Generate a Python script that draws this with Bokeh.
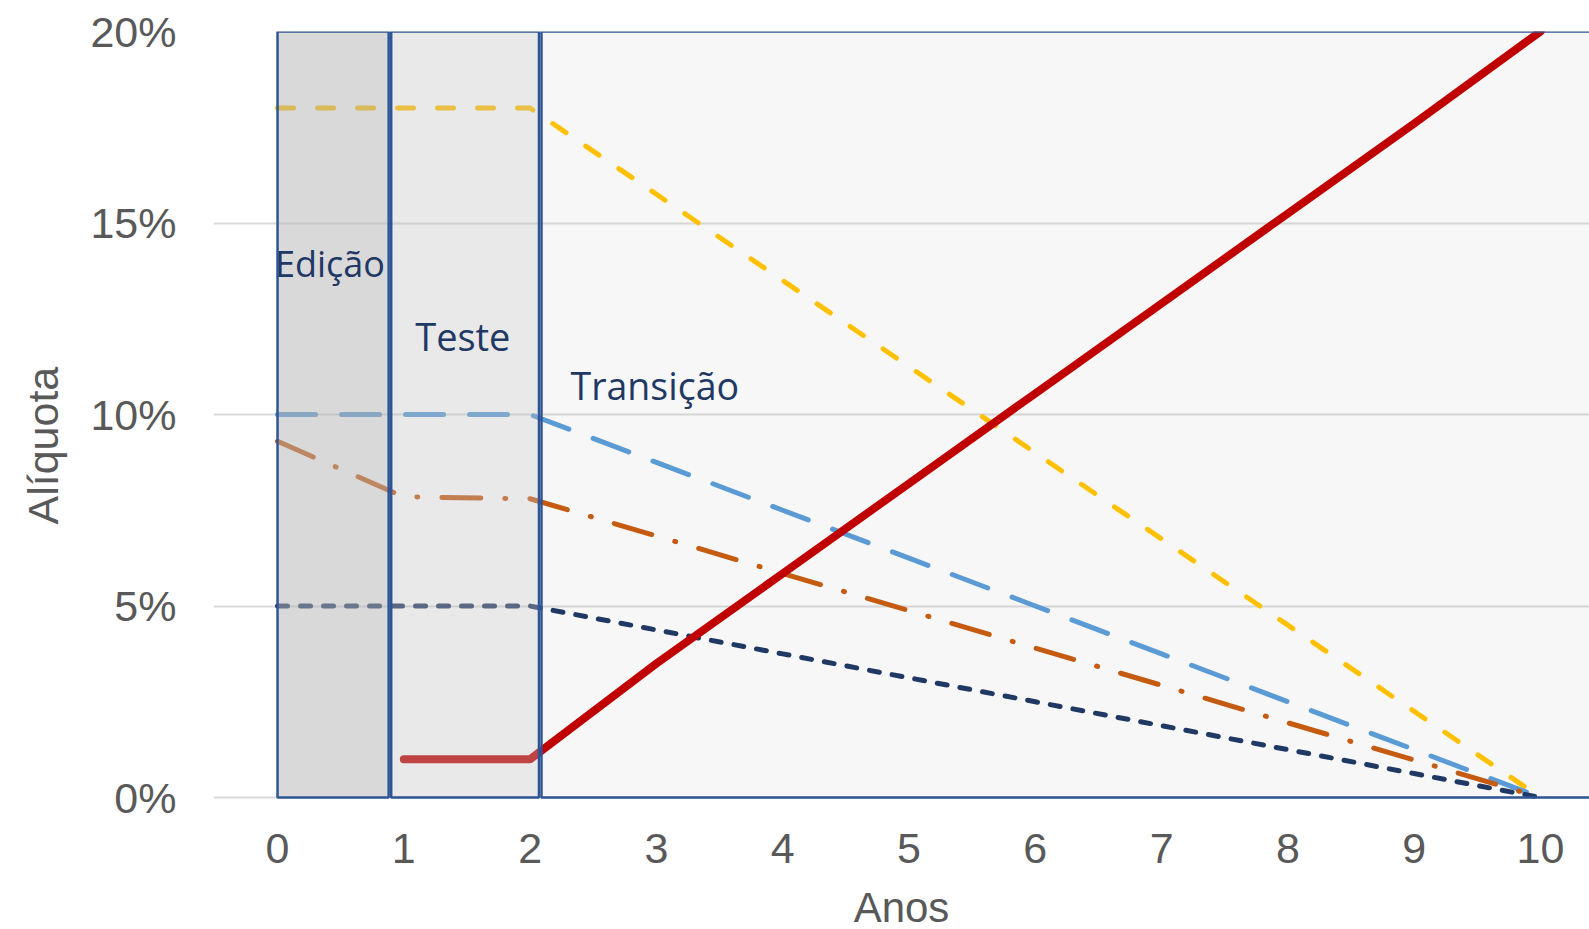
from bokeh.plotting import figure
from bokeh.models import FixedTicker, PrintfTickFormatter, Range1d, Title
from bokeh.models import Label
from bokeh.embed import file_html
from bokeh.resources import INLINE

# ---- data ----
anos = [0, 1, 2, 3, 4, 5, 6, 7, 8, 9, 10]
serie_amarela = [18, 18, 18, 15.75, 13.5, 11.25, 9, 6.75, 4.5, 2.25, 0]
serie_azul = [10, 10, 10, 8.75, 7.5, 6.25, 5, 3.75, 2.5, 1.25, 0]
serie_laranja = [9.3, 7.85, 7.8, 6.83, 5.85, 4.88, 3.9, 2.93, 1.95, 0.98, 0]
serie_marinho = [5, 5, 5, 4.375, 3.75, 3.125, 2.5, 1.875, 1.25, 0.625, 0]
anos_ibs = [1, 2, 3, 4, 5, 6, 7, 8, 9, 10]
serie_ibs = [1, 1, 3.5, 5.85, 8.2, 10.55, 12.9, 15.25, 17.6, 20]

fases = ["Edição", "Teste", "Transição"]
fase_inicio = [0, 0.9, 2.09]
fase_fim = [0.88, 2.07, 10.6]
fase_topo = [20, 20, 20]

y_ticks = [0, 5, 10, 15, 20]
x_ticks = anos
titulo_x = "Anos"
titulo_y = "Alíquota"

TICK_COLOR = "#595959"
LABEL_FONT = "Liberation Sans"

# the frame runs to the bottom edge; the x axis is pinned at 0 %
p = figure(width=1589, height=929, output_backend="svg", toolbar_location=None,
           x_range=Range1d(-0.507, 10.388), y_range=Range1d(-3.446, 20),
           min_border_left=213, min_border_right=0, min_border_top=31,
           min_border_bottom=0)
p.outline_line_color = None
p.background_fill_color = "white"
p.border_fill_color = "white"

# Transição box (under the lines)
p.quad(left=[fase_inicio[2]], right=[fase_fim[2]], bottom=[0], top=[fase_topo[2]],
       fill_color="#c0c0c0", fill_alpha=0.13, line_color=None)

# series
p.line(anos, serie_amarela, line_color="#ffc000", line_width=5, line_dash="16 24",
       line_cap="round", line_join="round")
p.line(anos, serie_azul, line_color="#5b9bd5", line_width=5, line_dash="38 26",
       line_cap="round", line_join="round")
p.line(anos, serie_laranja, line_color="#c55a11", line_width=5, line_dash="39 24 1 24",
       line_cap="round", line_join="round")
p.line(anos, serie_marinho, line_color="#203864", line_width=5, line_dash="10 13",
       line_cap="round", line_join="round")
p.line(anos_ibs, serie_ibs, line_color="#c00000", line_width=8,
       line_cap="round", line_join="round")

# Edição / Teste overlays (over the lines)
p.quad(left=[fase_inicio[0]], right=[fase_fim[0]], bottom=[0], top=[fase_topo[0]],
       fill_color="#b4b4b4", fill_alpha=0.5, line_color=None)
p.quad(left=[fase_inicio[1]], right=[fase_fim[1]], bottom=[0], top=[fase_topo[1]],
       fill_color="#c0c0c0", fill_alpha=0.35, line_color=None)

# borders
p.quad(left=fase_inicio, right=fase_fim, bottom=[0, 0, 0], top=fase_topo,
       fill_color=None, line_color="#2f5597", line_width=2.5)

# phase labels
lab_kw = dict(text_font="Open Sans", text_color="#1f3864",
              text_baseline="alphabetic", text_align="left")
p.add_layout(Label(x=-0.02, y=13.95, text=fases[0], text_font_size="36px", **lab_kw))
p.add_layout(Label(x=1.09, y=12.04, text=fases[1], text_font_size="38px", **lab_kw))
p.add_layout(Label(x=2.32, y=10.77, text=fases[2], text_font_size="37.5px", **lab_kw))

# grid
p.xgrid.visible = False
p.ygrid.ticker = FixedTicker(ticks=y_ticks)
p.ygrid.grid_line_color = "#d9d9d9"
p.ygrid.grid_line_width = 2

# axes
p.yaxis.ticker = FixedTicker(ticks=y_ticks)
p.yaxis.formatter = PrintfTickFormatter(format="%d%%")
p.xaxis.ticker = FixedTicker(ticks=x_ticks)
p.xaxis.fixed_location = 0
for ax in (p.xaxis[0], p.yaxis[0]):
    ax.axis_line_color = None
    ax.major_tick_line_color = None
    ax.minor_tick_line_color = None
    ax.major_label_text_font = LABEL_FONT
    ax.major_label_text_font_size = "43px"
    ax.major_label_text_color = TICK_COLOR
p.yaxis.major_label_standoff = 31
p.xaxis.major_label_standoff = 30

# x axis title
p.xaxis.axis_label = titulo_x
p.xaxis.axis_label_text_font = LABEL_FONT
p.xaxis.axis_label_text_font_size = "42px"
p.xaxis.axis_label_text_font_style = "normal"
p.xaxis.axis_label_text_color = TICK_COLOR
p.xaxis.axis_label_standoff = 18

# y axis title (as a left-side title so it can be shifted along the axis)
t = Title(text=titulo_y, align="left", offset=405, vertical_align="top",
          text_font=LABEL_FONT, text_font_size="43px",
          text_font_style="normal", text_color=TICK_COLOR)
if "standoff" in t.properties():
    t.standoff = 37
p.add_layout(t, "left")

open("out.html", "w").write(file_html(p, INLINE))
